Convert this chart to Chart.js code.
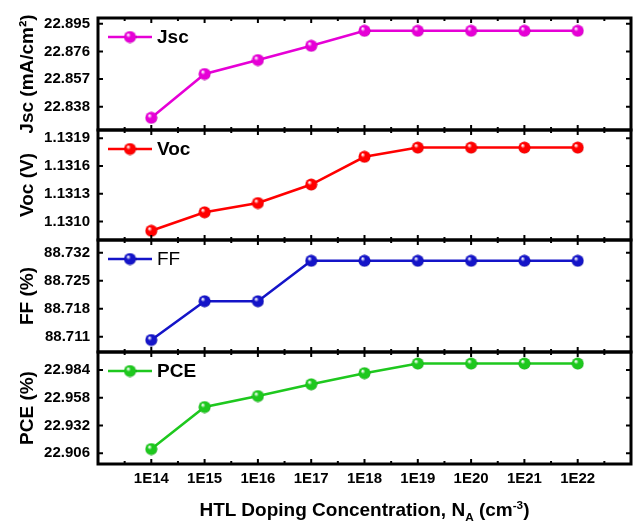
<!DOCTYPE html>
<html>
<head>
<meta charset="utf-8">
<script src="https://cdn.jsdelivr.net/npm/chart.js@4.4.1/dist/chart.umd.min.js"></script>
<style>
  body { margin: 0; background: #fff; }
  #wrap { position: relative; width: 635px; height: 524px; }
  #wrap canvas { position: absolute; left: 0; }
  #xtitle {
    position: absolute; left: 98px; width: 533px; top: 499px;
    text-align: center; line-height: 24px;
    font: bold 19px "Liberation Sans", Arial, sans-serif; color: #000;
  }
  #xtitle sub, #xtitle sup { font-size: 0.62em; line-height: 0; }
</style>
</head>
<body>
<div id="wrap">
  <canvas id="jscChart" width="635" height="118" style="top:15px"></canvas>
  <canvas id="vocChart" width="635" height="116" style="top:127px"></canvas>
  <canvas id="ffChart" width="635" height="118" style="top:237px"></canvas>
  <canvas id="pceChart" width="635" height="175" style="top:349px"></canvas>
  <div id="xtitle">HTL Doping Concentration, N<sub>A</sub> (cm<sup>-3</sup>)</div>
</div>
<script>
// doping levels on the x axis
const labels = ['1E14', '1E15', '1E16', '1E17', '1E18', '1E19', '1E20', '1E21', '1E22'];

// values
const jsc = [22.8304, 22.8605, 22.8701, 22.8799, 22.8902, 22.8902, 22.8902, 22.8902, 22.8902];
const voc = [1.1309, 1.1311, 1.1312, 1.1314, 1.1317, 1.1318, 1.1318, 1.1318, 1.1318];
const ff = [88.7102, 88.7199, 88.7199, 88.7300, 88.7300, 88.7300, 88.7300, 88.7300, 88.7300];
const pce = [22.910, 22.9493, 22.9596, 22.9706, 22.981, 22.990, 22.990, 22.990, 22.990];

// y tick labels
const jscTicks = [22.838, 22.857, 22.876, 22.895];
const vocTicks = [1.1310, 1.1313, 1.1316, 1.1319];
const ffTicks = [88.711, 88.718, 88.725, 88.732];
const pceTicks = [22.906, 22.932, 22.958, 22.984];

const FONT = '"Liberation Sans", Arial, sans-serif';

// shaded ball marker
function sphere(color, dark) {
  const c = document.createElement('canvas');
  c.width = 13; c.height = 13;
  const g = c.getContext('2d');
  const grad = g.createRadialGradient(4.5, 4.2, 0.5, 6.5, 6.5, 6.5);
  grad.addColorStop(0, '#ffffff');
  grad.addColorStop(0.3, color);
  grad.addColorStop(0.85, color);
  grad.addColorStop(1, dark);
  g.fillStyle = grad;
  g.beginPath();
  g.arc(6.5, 6.5, 6, 0, Math.PI * 2);
  g.fill();
  return c;
}

// box frame with inward ticks on all four sides
const framePlugin = {
  id: 'frame',
  afterDraw(chart) {
    const { ctx, chartArea: a, scales } = chart;
    ctx.save();
    ctx.strokeStyle = '#000';
    ctx.lineWidth = 2;
    ctx.beginPath();
    scales.x.ticks.forEach(t => {
      const px = scales.x.getPixelForValue(t.value);
      const len = Number.isInteger(Math.round(t.value * 1000) / 1000) ? 5 : 3;
      ctx.moveTo(px, a.top); ctx.lineTo(px, a.top + len);
      ctx.moveTo(px, a.bottom); ctx.lineTo(px, a.bottom - len);
    });
    scales.y.ticks.forEach(t => {
      const py = scales.y.getPixelForValue(t.value);
      ctx.moveTo(a.left, py); ctx.lineTo(a.left + 5, py);
      ctx.moveTo(a.right, py); ctx.lineTo(a.right - 5, py);
    });
    ctx.stroke();
    ctx.lineWidth = 3;
    ctx.strokeRect(a.left, a.top, a.right - a.left, a.bottom - a.top);
    ctx.restore();
  }
};

// legend in the upper-left corner: line, ball, label
const legendPlugin = {
  id: 'panelLegend',
  afterDatasetsDraw(chart, args, opts) {
    const { ctx, chartArea: a } = chart;
    const ds = chart.data.datasets[0];
    const y = a.top + 19;
    ctx.save();
    ctx.strokeStyle = ds.borderColor;
    ctx.lineWidth = 2.5;
    ctx.beginPath();
    ctx.moveTo(a.left + 10, y);
    ctx.lineTo(a.left + 54, y);
    ctx.stroke();
    const img = ds.pointStyle;
    ctx.drawImage(img, a.left + 32 - img.width / 2, y - img.height / 2);
    ctx.fillStyle = '#000';
    ctx.font = (opts.weight || 'bold') + ' 19px ' + FONT;
    ctx.textBaseline = 'middle';
    ctx.fillText(opts.text, a.left + 59, y + 1);
    ctx.restore();
  }
};

function makePanel(id, values, yTicks, decimals, yMin, yMax, color, dark, yTitle, legendText, opts) {
  const bottom = opts.bottom;
  const marker = sphere(color, dark);
  return new Chart(document.getElementById(id), {
    type: 'line',
    data: {
      datasets: [{
        data: values.map((v, i) => ({ x: i, y: v })),
        borderColor: color,
        backgroundColor: color,
        borderWidth: 2.5,
        pointStyle: marker,
        pointRadius: 6,
        tension: 0
      }]
    },
    options: {
      responsive: false,
      animation: false,
      layout: { autoPadding: false, padding: { top: 3, bottom: bottom ? 30 : 3, left: 0, right: 4 } },
      plugins: {
        legend: { display: false },
        tooltip: { enabled: false },
        panelLegend: { text: legendText, weight: opts.weight }
      },
      scales: {
        x: {
          type: 'linear',
          min: -1,
          max: 9,
          grid: { display: false, drawTicks: false, tickLength: 0 },
          border: { display: false },
          ticks: {
            display: bottom,
            stepSize: 0.5,
            autoSkip: false,
            maxRotation: 0,
            padding: 6,
            color: '#000',
            font: { family: FONT, size: 15, weight: 'bold' },
            callback: v => (Number.isInteger(v) && labels[v]) ? labels[v] : ''
          },
          afterFit: s => { s.height = bottom ? 30 : 0; s.paddingLeft = 0; s.paddingRight = 0; }
        },
        y: {
          min: yMin,
          max: yMax,
          grid: { display: false, drawTicks: false, tickLength: 0 },
          border: { display: false },
          afterBuildTicks: s => { s.ticks = yTicks.map(v => ({ value: v })); },
          afterFit: s => { s.width = 98; s.paddingTop = 0; s.paddingBottom = 0; },
          ticks: {
            padding: 8,
            color: '#000',
            font: { family: FONT, size: 15, weight: 'bold' },
            callback: v => v.toFixed(decimals)
          },
          title: {
            display: true,
            text: yTitle,
            color: '#000',
            font: { family: FONT, size: 19, weight: 'bold' },
            padding: { top: 16, bottom: 0 }
          }
        }
      }
    },
    plugins: [framePlugin, legendPlugin]
  });
}

makePanel('jscChart', jsc, jscTicks, 3, 22.822, 22.899, '#e600d6', '#8a0080', 'Jsc (mA/cm²)', 'Jsc', {});
makePanel('vocChart', voc, vocTicks, 4, 1.13080, 1.13199, '#ff0000', '#990000', 'Voc (V)', 'Voc', {});
makePanel('ffChart', ff, ffTicks, 3, 88.7072, 88.7352, '#1414c8', '#000070', 'FF (%)', 'FF', { weight: 'normal' });
makePanel('pceChart', pce, pceTicks, 3, 22.896, 23.0008, '#1ec81e', '#0a700a', 'PCE (%)', 'PCE', { bottom: true });
</script>
</body>
</html>
